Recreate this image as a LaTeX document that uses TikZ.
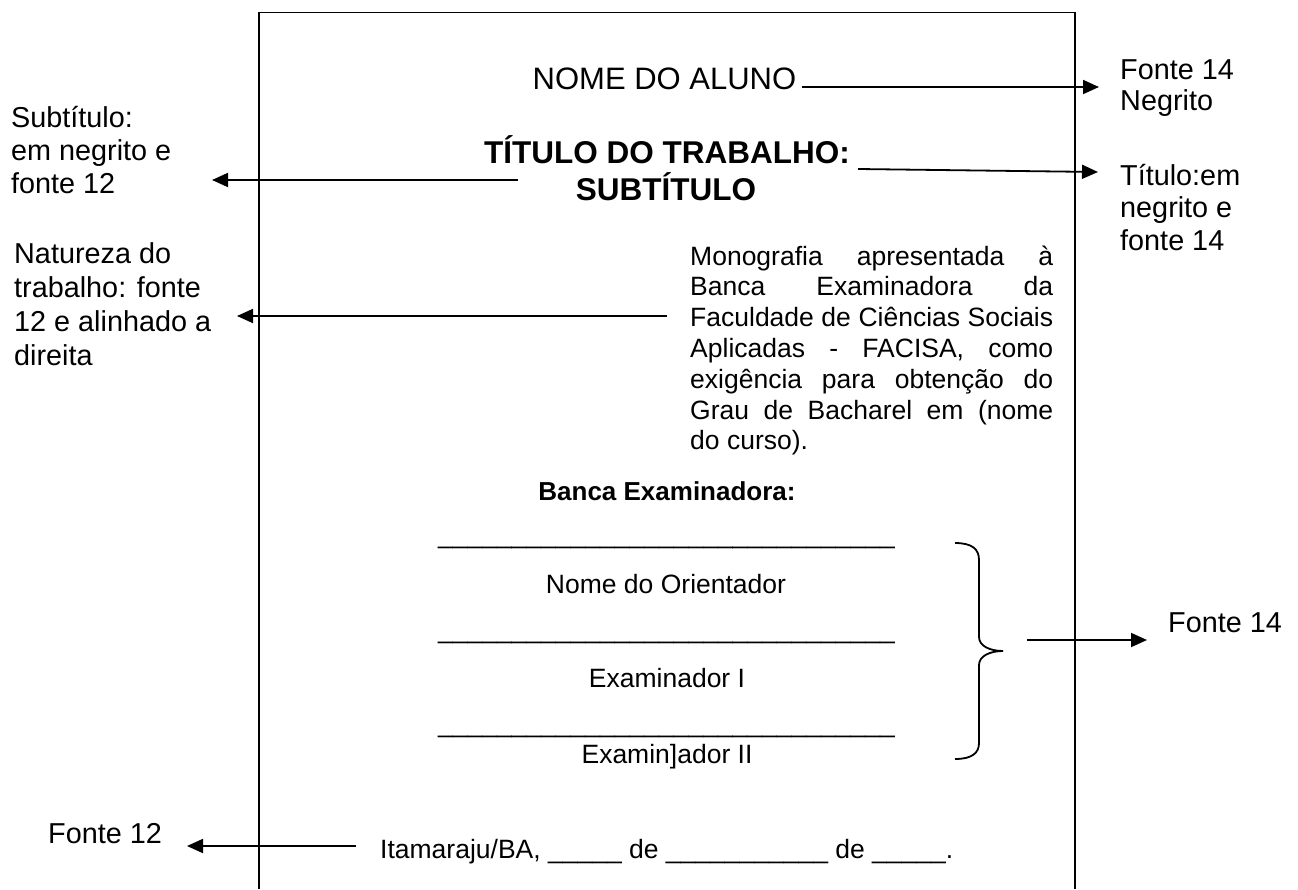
\documentclass[tikz,border=0pt]{standalone}
\usepackage{fontspec}
\setmainfont{Liberation Sans}
\usetikzlibrary{arrows.meta,calc}
\newcommand\lns[2]{\vtop{\baselineskip=#1\relax\lineskiplimit=-100pt\halign{##\hfil\cr#2\crcr}}}
\newcommand\unders[1]{\foreach\i in {1,...,#1}{\_}}
\begin{document}
\begin{tikzpicture}[x=1pt,y=1pt,yscale=-1,
  lbl/.style={font=\fontsize{28.8}{33}\selectfont,inner sep=0pt,anchor=base west},
  body/.style={font=\fontsize{26.5}{30.8}\selectfont,inner sep=0pt,anchor=base},
  head/.style={font=\fontsize{31.5}{37}\selectfont\bfseries,inner sep=0pt,anchor=base},
  arr/.style={line width=1.8pt,-{Triangle[length=16pt,width=14pt]}},
  frame/.style={line width=1.8pt}]
\useasboundingbox (0,0) rectangle (1298,889);
\draw[frame] (259,889) -- (259,12.5) -- (1075,12.5) -- (1075,889);

% page contents
\node[body,font=\fontsize{31}{37}\selectfont] (nome) at (664.5,89) {NOME DO ALUNO};
\node[head] (tit1) at (667,163) {TÍTULO DO TRABALHO:};
\node[head] (tit2) at (666,200) {SUBTÍTULO};
\node[body,anchor=base west] (mono) at (690,265) {\lns{30.8pt}{%
\makebox[363pt][s]{Monografia apresentada à}\cr
\makebox[363pt][s]{Banca Examinadora da}\cr
\makebox[363pt][s]{Faculdade de Ciências Sociais}\cr
\makebox[363pt][s]{Aplicadas - FACISA, como}\cr
\makebox[363pt][s]{exigência para obtenção do}\cr
\makebox[363pt][s]{Grau de Bacharel em (nome}\cr
do curso).}};
\node[body,font=\fontsize{26}{30}\selectfont\bfseries] (banca) at (667,500) {Banca Examinadora:};
\node[body] (u1) at (666.5,543.5) {\unders{31}};
\node[body] (orient) at (666,593) {Nome do Orientador};
\node[body] (u2) at (666.5,638.5) {\unders{31}};
\node[body] (ex1) at (667,687) {Examinador I};
\node[body] (u3) at (666.5,732.5) {\unders{31}};
\node[body] (ex2) at (667,763) {Examin]ador II};
\node[body,anchor=base west] (ita) at (380,858) {Itamaraju/BA, \unders{5} de \unders{11} de \unders{5}.};

% side labels
\node[lbl] (l1) at (1120,79) {\lns{31pt}{Fonte 14\cr Negrito}};
\node[lbl] (l2) at (1120,185) {\lns{32.5pt}{Título:em\cr negrito e\cr fonte 14}};
\node[lbl] (l3) at (11,127) {\lns{33pt}{Subtítulo:\cr em negrito e\cr fonte 12}};
\node[lbl] (l4) at (14,263) {\lns{34pt}{Natureza do\cr trabalho: fonte\cr 12 e alinhado a\cr direita}};
\node[lbl] (l5) at (1168,632) {Fonte 14};
\node[lbl] (l6) at (48,843) {Fonte 12};

% brace
\draw[frame] (955,543) .. controls (972,543) and (979,549) .. (979,560) -- (979,637)
  .. controls (979,646) and (990,651) .. (1003,651) coordinate (brtip)
  .. controls (990,651) and (979,656) .. (979,665) -- (979,743)
  .. controls (979,753) and (972,759) .. (955,759);

% arrows
\draw[arr] ($(nome.base east)+(6,-2)$) -- ($(l1.base west)+(-21,8)$);
\draw[arr] ($(tit1.base east)+(8,6)$) -- ($(l2.base west)+(-22,-13)$);
\draw[arr] ($(tit2.base west)+(-58,-20)$) -- ($(l3.base west)+(201,53)$);
\draw[arr] ($(mono.base west)+(-23,51)$) -- ($(l4.base west)+(223,53)$);
\draw[arr] ($(brtip)+(24,-11)$) -- ($(l5.base west)+(-21,8)$);
\draw[arr] ($(ita.base west)+(-24,-12)$) -- ($(l6.base west)+(139,3)$);
\end{tikzpicture}
\end{document}
